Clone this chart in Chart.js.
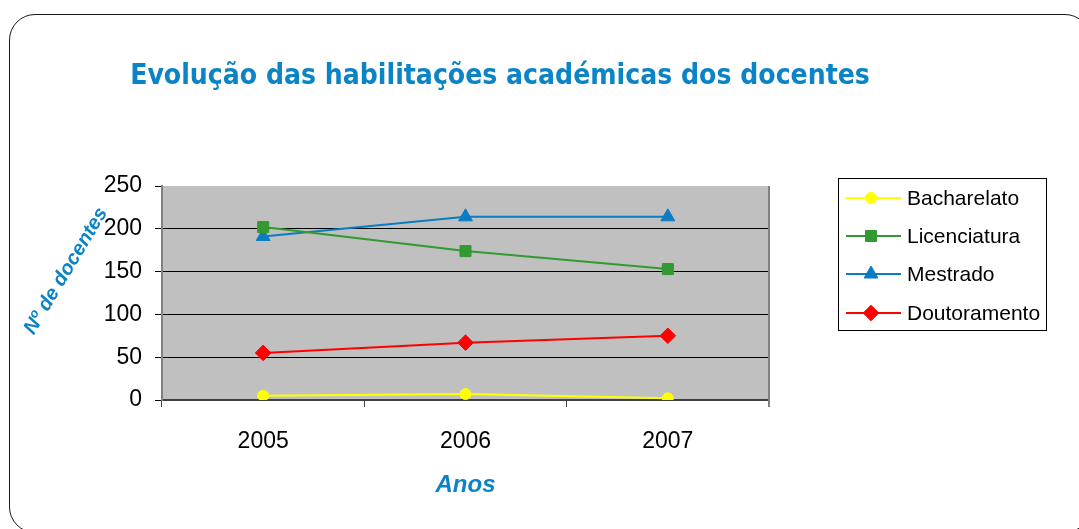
<!DOCTYPE html>
<html>
<head>
<meta charset="utf-8">
<script src="https://cdn.jsdelivr.net/npm/chart.js@4.4.1/dist/chart.umd.min.js"></script>
<style>
  html, body { margin: 0; padding: 0; background: #fff; overflow: hidden; }
  #wrap { position: relative; width: 1079px; height: 529px; }
  #frame { position: absolute; left: 9px; top: 14px; width: 1082px; height: 519px;
           border: 1.5px solid #1a1a1a; border-radius: 26px; box-sizing: border-box; }
  canvas { position: absolute; left: 0; top: 0; }
</style>
</head>
<body>
<div id="wrap">
  <div id="frame"></div>
  <canvas id="c" width="1079" height="529"></canvas>
</div>
<script>
const categories = ['2005', '2006', '2007'];
const seriesNames = ['Bacharelato', 'Licenciatura', 'Mestrado', 'Doutoramento'];
const bacharelato = [5, 7, 2];
const licenciatura = [202, 174, 153];
const mestrado = [191, 214, 214];
const doutoramento = [55, 67, 75];
const yMin = 0, yMax = 250, yStep = 50;
const chartTitle = 'Evolução das habilitações académicas dos docentes';
const yTitle = 'Nº de docentes';
const xTitle = 'Anos';

const BLUE = '#0A84C6';
const colors = ['#FFFF00', '#339933', '#0A7DC2', '#FF0000'];
const styles = ['circle', 'rect', 'triangle', 'rectRot'];
const radii = [5.5, 7.8, 8, 7.8];
const values = [bacharelato, licenciatura, mestrado, doutoramento];

const decor = {
  id: 'decor',
  beforeDraw(chart) {
    const {ctx, chartArea: a} = chart;
    ctx.save();
    ctx.fillStyle = '#C0C0C0';
    ctx.fillRect(a.left, a.top, a.right - a.left, a.bottom - a.top);
    ctx.restore();
  },
  afterDraw(chart) {
    const {ctx, chartArea: a} = chart;
    ctx.save();
    ctx.strokeStyle = '#808080';
    ctx.lineWidth = 2;
    ctx.beginPath();
    ctx.moveTo(a.right, a.top);
    ctx.lineTo(a.right, a.bottom + 7);
    ctx.stroke();

    // title
    ctx.fillStyle = BLUE;
    ctx.font = 'bold 100px "DejaVu Sans"';
    const w100 = ctx.measureText(chartTitle).width;
    const size = 100 * 740 / w100;
    ctx.save();
    ctx.translate(500, 84);
    ctx.scale(1, 1.15);
    ctx.font = 'bold ' + size.toFixed(2) + 'px "DejaVu Sans"';
    ctx.textAlign = 'center';
    ctx.textBaseline = 'alphabetic';
    ctx.fillText(chartTitle, 0, 0);
    ctx.restore();

    // y axis title (rotated)
    ctx.save();
    ctx.translate(66, 271);
    ctx.rotate(-59 * Math.PI / 180);
    ctx.font = 'italic bold 20px "Liberation Sans"';
    ctx.textAlign = 'center';
    ctx.textBaseline = 'middle';
    ctx.fillText(yTitle, 0, 0);
    ctx.restore();

    // legend
    const lx = 838, ly = 178, lw = 208, lh = 152;
    ctx.fillStyle = '#fff';
    ctx.fillRect(lx, ly, lw, lh);
    ctx.strokeStyle = '#000';
    ctx.lineWidth = 1;
    ctx.strokeRect(lx + 0.5, ly + 0.5, lw, lh);
    const rows = [198, 236, 274, 313];
    chart.data.datasets.forEach((ds, i) => {
      const y = rows[i];
      ctx.strokeStyle = ds.borderColor;
      ctx.lineWidth = 2;
      ctx.beginPath();
      ctx.moveTo(846, y);
      ctx.lineTo(901, y);
      ctx.stroke();
      ctx.fillStyle = ds.pointBackgroundColor;
      ctx.strokeStyle = ds.pointBorderColor;
      ctx.lineWidth = 1;
      Chart.helpers.drawPoint(ctx, {pointStyle: ds.pointStyle, radius: ds.pointRadius, rotation: 0, borderWidth: 1}, 871, y);
      ctx.fillStyle = '#000';
      ctx.font = '21px "Liberation Sans"';
      ctx.textAlign = 'left';
      ctx.textBaseline = 'middle';
      ctx.fillText(ds.label, 907, y + 1);
    });
    ctx.restore();
  }
};

const datasets = seriesNames.map((name, i) => ({
  label: name,
  data: values[i],
  borderColor: colors[i],
  backgroundColor: colors[i],
  pointBackgroundColor: colors[i],
  pointBorderColor: colors[i],
  pointStyle: styles[i],
  pointRadius: radii[i],
  pointHoverRadius: radii[i],
  pointBorderWidth: 1,
  borderWidth: 2,
  tension: 0,
  fill: false
}));

new Chart(document.getElementById('c'), {
  type: 'line',
  data: { labels: categories, datasets },
  plugins: [decor],
  options: {
    responsive: false,
    animation: false,
    events: [],
    layout: { padding: { top: 186, right: 310, left: 0, bottom: 0 } },
    plugins: { legend: { display: false }, title: { display: false }, tooltip: { enabled: false } },
    scales: {
      x: {
        type: 'category',
        offset: true,
        afterFit(s) { s.height = 129; },
        grid: { offset: true, drawOnChartArea: false, drawTicks: true, tickLength: 7, tickColor: '#404040', lineWidth: 1 },
        border: { display: true, color: '#404040', width: 2 },
        ticks: { color: '#000', font: { family: 'Liberation Sans', size: 23 }, padding: 21, maxRotation: 0 },
        title: { display: true, text: xTitle, color: BLUE,
                 font: { family: 'Liberation Sans', size: 24, style: 'italic', weight: 'bold' },
                 padding: { top: 0, bottom: 29 } }
      },
      y: {
        min: yMin, max: yMax,
        afterFit(s) { s.width = 162; },
        ticks: { stepSize: yStep, color: '#000', font: { family: 'Liberation Sans', size: 23 }, padding: 13 },
        grid: {
          color: ctx => (ctx.tick && ctx.tick.value === yMax) ? 'rgba(0,0,0,0)' : '#000',
          tickColor: '#000', tickLength: 7, lineWidth: 1
        },
        border: { display: true, color: '#808080', width: 2 }
      }
    }
  }
});
</script>
</body>
</html>
